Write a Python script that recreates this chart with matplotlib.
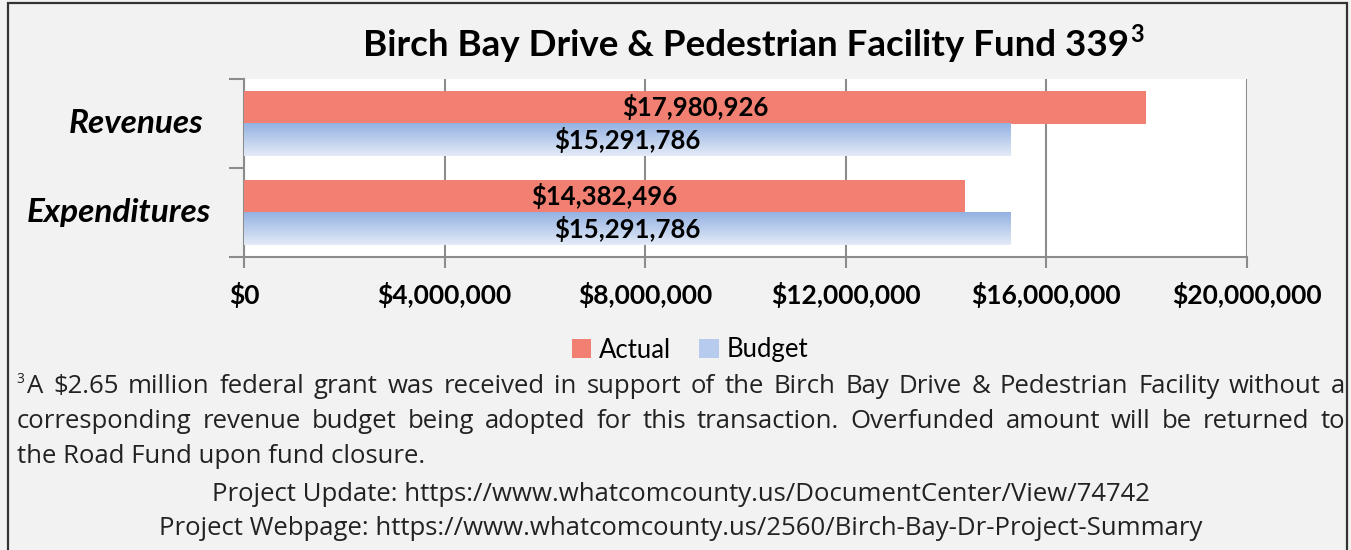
import matplotlib
matplotlib.use("Agg")
import matplotlib.pyplot as plt
import numpy as np
from matplotlib.patches import Patch, Rectangle
from matplotlib.colors import LinearSegmentedColormap
from matplotlib.transforms import blended_transform_factory

# ---- data ----
categories = ["Revenues", "Expenditures"]
actual = [17980926, 14382496]
budget = [15291786, 15291786]
x_ticks = [0, 4000000, 8000000, 12000000, 16000000, 20000000]
series_names = ["Actual", "Budget"]
title_main = "Birch Bay Drive & Pedestrian Facility Fund 339"
title_sup = "3"
footnote_mark = "3"
footnote_lines = [
    "A $2.65 million federal grant was received in support of the Birch Bay Drive & Pedestrian Facility without a",
    "corresponding revenue budget being adopted for this transaction. Overfunded amount will be returned to",
    "the Road Fund upon fund closure.",
]
link_lines = [
    "Project Update: https://www.whatcomcounty.us/DocumentCenter/View/74742",
    "Project Webpage: https://www.whatcomcounty.us/2560/Birch-Bay-Dr-Project-Summary",
]

# ---- style ----
W, H = 1351, 550
BG = "#f2f2f2"
RED = "#f28072"
BLUE_TOP = "#93b1e2"
BLUE_BOT = "#e4ebf7"
GRID = "#8c8c8c"
HEAD_FONT = "Lato"
NOTE_FONT = "Open Sans"
NOTE_COLOR = "#222222"


def px(x, y):
    """pixel position (from top-left) -> figure fraction"""
    return x / W, 1 - y / H


fig = plt.figure(figsize=(W / 100, H / 100), dpi=100, facecolor=BG)
renderer = fig.canvas.get_renderer()

# outer frame (bottom edge runs off the canvas)
fig.patches.append(Rectangle(px(8, 560), (1347 - 8) / W, (560 - 3) / H,
                             transform=fig.transFigure, fill=False, edgecolor="#333333", lw=1.6))

ax = fig.add_axes([244 / W, 1 - 257 / H, (1247 - 244) / W, (257 - 79) / H])
ax.set_facecolor("white")

ypos = np.arange(len(categories))[::-1]
bh = 0.37
ax.barh(ypos + bh / 2, actual, height=bh, color=RED, zorder=3)
bud_bars = ax.barh(ypos - bh / 2, budget, height=bh, color="none", zorder=3)

cmap = LinearSegmentedColormap.from_list("budget", [BLUE_BOT, BLUE_TOP])
grad = np.linspace(0, 1, 256).reshape(-1, 1)
for b in bud_bars:
    ax.imshow(grad, cmap=cmap, origin="lower", aspect="auto", zorder=3,
              extent=(b.get_x(), b.get_x() + b.get_width(), b.get_y(), b.get_y() + b.get_height()))

VAL_FS = 18.5
for y, v in zip(ypos + bh / 2, actual):
    ax.text(v / 2, y, f"${v:,.0f}", ha="center", va="center", fontsize=VAL_FS,
            fontweight="bold", family=HEAD_FONT, zorder=4)
for y, v in zip(ypos - bh / 2, budget):
    ax.text(v / 2, y, f"${v:,.0f}", ha="center", va="center", fontsize=VAL_FS,
            fontweight="bold", family=HEAD_FONT, zorder=4)

ax.set_xlim(x_ticks[0], x_ticks[-1])
ax.set_ylim(-0.5, len(categories) - 0.5)
ax.set_xticks(x_ticks)
ax.set_xticklabels([f"${v:,.0f}" for v in x_ticks], fontsize=19, fontweight="bold", family=HEAD_FONT)
ax.tick_params(axis="x", length=8, width=1.5, color=GRID, pad=10)
ax.set_yticks(np.arange(-0.5, len(categories), 1.0))
ax.set_yticklabels([])
ax.tick_params(axis="y", length=11, width=1.5, color=GRID)
ax.grid(axis="x", color=GRID, lw=1.5, zorder=1)
ax.set_axisbelow(True)
for s in ("top", "right"):
    ax.spines[s].set_visible(False)
for s in ("left", "bottom"):
    ax.spines[s].set_color(GRID)
    ax.spines[s].set_linewidth(1.5)

# category labels
tr = blended_transform_factory(fig.transFigure, ax.transData)
for cat, y, xr in zip(categories, ypos, (203, 211)):
    ax.text(xr / W, y, cat, transform=tr, ha="right", va="center", fontsize=24,
            fontweight="bold", style="italic", family=HEAD_FONT)

# title with superscript
t = fig.text(*px(363, 56), title_main, ha="left", va="baseline", fontsize=26.5,
             fontweight="bold", family=HEAD_FONT)
bb = t.get_window_extent(renderer)
fig.text((bb.x1 + 1) / W, px(0, 42)[1], title_sup, ha="left", va="baseline", fontsize=17,
         fontweight="bold", family=HEAD_FONT)

# legend
handles = [Patch(facecolor=RED, edgecolor="none"), Patch(facecolor="#b7cbee", edgecolor="none")]
fig.legend(handles, series_names, loc="center", bbox_to_anchor=px(690, 350), ncol=2, frameon=False,
           prop={"family": HEAD_FONT, "size": 18.5}, handlelength=0.75, handleheight=0.75,
           handletextpad=0.3, columnspacing=1.1)

# footnote: justified lines
NOTE_FS = 18.5
left, right = 27, 1345
baselines = [393, 428, 463]
fig.text(*px(16, baselines[0] - 10), footnote_mark, fontsize=10, color=NOTE_COLOR, family=NOTE_FONT,
         va="baseline")
for i, (line, yb) in enumerate(zip(footnote_lines, baselines)):
    x0 = left if i == 0 else 17
    if i == len(footnote_lines) - 1:
        fig.text(*px(x0, yb), line, fontsize=NOTE_FS, color=NOTE_COLOR, family=NOTE_FONT, va="baseline")
        continue
    words = line.split(" ")
    texts = [fig.text(0, px(0, yb)[1], w, fontsize=NOTE_FS, color=NOTE_COLOR, family=NOTE_FONT,
                      va="baseline") for w in words]
    widths = [tt.get_window_extent(renderer).width for tt in texts]
    gap = (right - x0 - sum(widths)) / (len(words) - 1)
    x = x0
    for tt, w in zip(texts, widths):
        tt.set_x(x / W)
        x += w + gap

for line, yb in zip(link_lines, (501, 535)):
    fig.text(*px(681, yb), line, ha="center", va="baseline", fontsize=NOTE_FS, color=NOTE_COLOR,
             family=NOTE_FONT)

fig.savefig("out.png", dpi=100, facecolor=BG)
